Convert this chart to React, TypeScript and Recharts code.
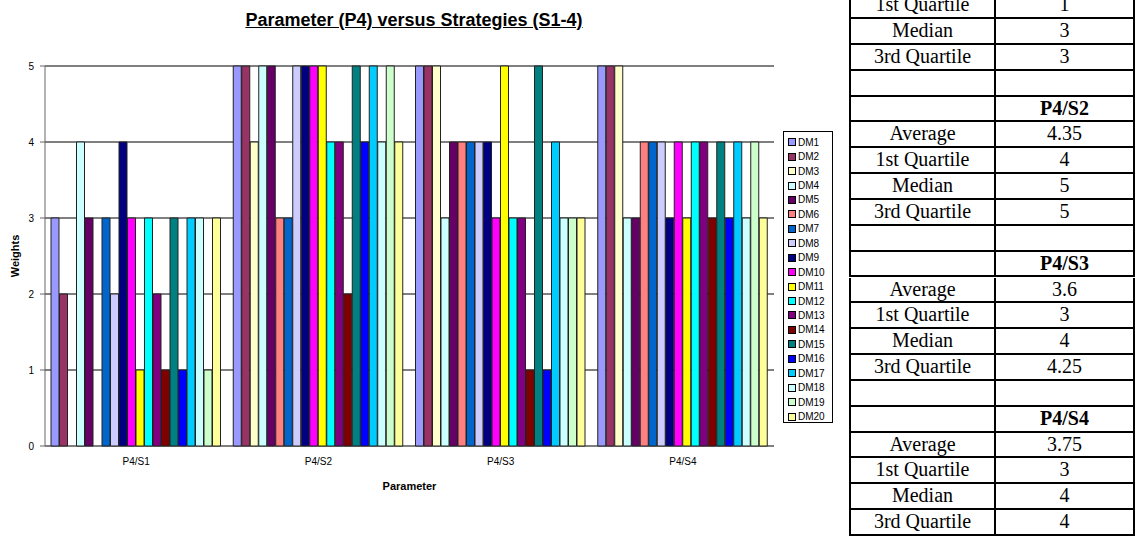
import { BarChart, Bar, XAxis, YAxis, CartesianGrid, Legend } from "recharts";

const categories = ["P4/S1", "P4/S2", "P4/S3", "P4/S4"];
const deciders = [
  "DM1", "DM2", "DM3", "DM4", "DM5", "DM6", "DM7", "DM8", "DM9", "DM10",
  "DM11", "DM12", "DM13", "DM14", "DM15", "DM16", "DM17", "DM18", "DM19", "DM20",
];
const colors = [
  "#9999FF", "#993366", "#FFFFCC", "#CCFFFF", "#660066", "#FF8080", "#0066CC",
  "#CCCCFF", "#000080", "#FF00FF", "#FFFF00", "#00FFFF", "#800080", "#800000",
  "#008080", "#0000FF", "#00CCFF", "#CCFFFF", "#CCFFCC", "#FFFF99",
];

// weights given by each decision maker, one array per strategy
const s1 = [3, 2, 0, 4, 3, 0, 3, 2, 4, 3, 1, 3, 2, 1, 3, 1, 3, 3, 1, 3];
const s2 = [5, 5, 4, 5, 5, 3, 3, 5, 5, 5, 5, 4, 4, 2, 5, 4, 5, 4, 5, 4];
const s3 = [5, 5, 5, 3, 4, 4, 4, 4, 4, 3, 5, 3, 3, 1, 5, 1, 4, 3, 3, 3];
const s4 = [5, 5, 5, 3, 3, 4, 4, 4, 3, 4, 3, 4, 4, 3, 4, 3, 4, 3, 4, 3];
const yTicks = [0, 1, 2, 3, 4, 5];
const boundaryTicks = [0, 1, 2, 3, 4];

// summary table on the right
const statLabels = ["Average", "1st Quartile", "Median", "3rd Quartile"];
const s1Stats = ["2.25", "1", "3", "3"];
const s2Stats = ["4.35", "4", "5", "5"];
const s3Stats = ["3.6", "3", "4", "4.25"];
const s4Stats = ["3.75", "3", "4", "4"];

const series = [s1, s2, s3, s4];
const data = categories.map((name, i) => {
  const row: Record<string, string | number> = { name };
  deciders.forEach((dm, j) => {
    row[dm] = series[i][j];
  });
  return row;
});

const statBlocks = [s1Stats, s2Stats, s3Stats, s4Stats];
type TRow = { label: string; value: string; head?: boolean };
const tableRows: TRow[] = [];
categories.forEach((cat, i) => {
  tableRows.push({ label: "", value: cat, head: true });
  statLabels.forEach((lab, j) => tableRows.push({ label: lab, value: statBlocks[i][j] }));
  tableRows.push({ label: "", value: "" });
});

const font = "'Liberation Sans', Arial, sans-serif";
const rowH = 25.85;
const firstShown = 2; // table is cut off at the top of the picture

function LegendBox() {
  return (
    <div style={{ fontFamily: font, fontSize: 10, color: "#000", padding: "3px 0 0 4px" }}>
      {deciders.map((dm, i) => (
        <div key={dm} style={{ height: 14.45, display: "flex", alignItems: "center" }}>
          <span
            style={{
              display: "inline-block",
              width: 6,
              height: 6,
              background: colors[i],
              border: "1px solid #000",
              marginRight: 2,
            }}
          />
          {dm}
        </div>
      ))}
    </div>
  );
}

function SummaryTable() {
  return (
    <>
      {tableRows.slice(firstShown, tableRows.length - 1).map((r, i) => (
        <div
          key={i}
          style={{
            position: "absolute",
            left: 849,
            top: -6.85 + i * rowH,
            width: 286,
            height: rowH,
            boxSizing: "border-box",
            borderLeft: "2px solid #000",
            borderRight: "2px solid #000",
            borderBottom: "2px solid #000",
            display: "flex",
            fontFamily: "'Liberation Serif', 'Times New Roman', serif",
            fontSize: 20,
            color: "#000",
          }}
        >
          <div
            style={{
              width: 143,
              borderRight: "2px solid #000",
              textAlign: "center",
              lineHeight: `${rowH - 2}px`,
            }}
          >
            {r.label}
          </div>
          <div
            style={{
              flex: 1,
              textAlign: "center",
              lineHeight: `${rowH - 2}px`,
              fontWeight: r.head ? "bold" : "normal",
            }}
          >
            {r.value}
          </div>
        </div>
      ))}
    </>
  );
}

export default function App() {
  return (
    <div style={{ position: "absolute", left: 0, top: 0, width: 1136, height: 536, background: "#fff", overflow: "hidden" }}>
      <div
        style={{
          position: "absolute",
          left: 164,
          top: 10,
          width: 500,
          textAlign: "center",
          fontFamily: font,
          fontWeight: "bold",
          fontSize: 18,
          textDecoration: "underline",
          lineHeight: "20px",
        }}
      >
        Parameter (P4) versus Strategies (S1-4)
      </div>
      <div style={{ position: "absolute", left: 0, top: 0 }}>
        <BarChart
          width={850}
          height={536}
          data={data}
          margin={{ top: 66, right: 76, bottom: 40, left: 0 }}
          barCategoryGap={6}
          barGap={0.5}
        >
          <CartesianGrid vertical={false} stroke="#000" />
          <XAxis
            xAxisId="b"
            type="number"
            domain={[0, 4]}
            ticks={boundaryTicks}
            allowDataOverflow
            height={0}
            tickSize={5}
            tickFormatter={() => ""}
            axisLine={{ stroke: "#666" }}
            tickLine={{ stroke: "#666" }}
          />
          <XAxis
            dataKey="name"
            height={50}
            axisLine={false}
            tickLine={false}
            tickSize={8}
            tickMargin={4}
            tick={{ fontSize: 10, fill: "#000", fontFamily: font }}
            label={{
              value: "Parameter",
              position: "insideBottom",
              offset: 6,
              style: { fontSize: 11, fontWeight: "bold", fill: "#000", fontFamily: font },
            }}
          />
          <YAxis
            domain={[0, 5]}
            ticks={yTicks}
            interval={0}
            width={45}
            tickSize={5}
            tickMargin={6}
            axisLine={{ stroke: "#666" }}
            tickLine={{ stroke: "#666" }}
            tick={{ fontSize: 10, fill: "#000", fontFamily: font }}
            label={{
              value: "Weights",
              angle: -90,
              position: "insideLeft",
              offset: 15,
              style: { textAnchor: "middle", fontSize: 11, fontWeight: "bold", fill: "#000", fontFamily: font },
            }}
          />
          <YAxis
            yAxisId="r"
            orientation="right"
            domain={[0, 5]}
            width={0}
            tick={false}
            tickLine={false}
            axisLine={{ stroke: "#000" }}
          />
          <Legend
            layout="vertical"
            align="center"
            verticalAlign="middle"
            content={() => <LegendBox />}
            wrapperStyle={{
              left: 783,
              top: 131,
              width: 50,
              height: 292,
              border: "1px solid #000",
              background: "#fff",
              boxSizing: "border-box",
            }}
          />
          {deciders.map((dm, i) => (
            <Bar
              key={dm}
              dataKey={dm}
              fill={colors[i]}
              stroke="#222"
              strokeWidth={1}
              isAnimationActive={false}
            />
          ))}
        </BarChart>
      </div>
      <SummaryTable />
    </div>
  );
}
